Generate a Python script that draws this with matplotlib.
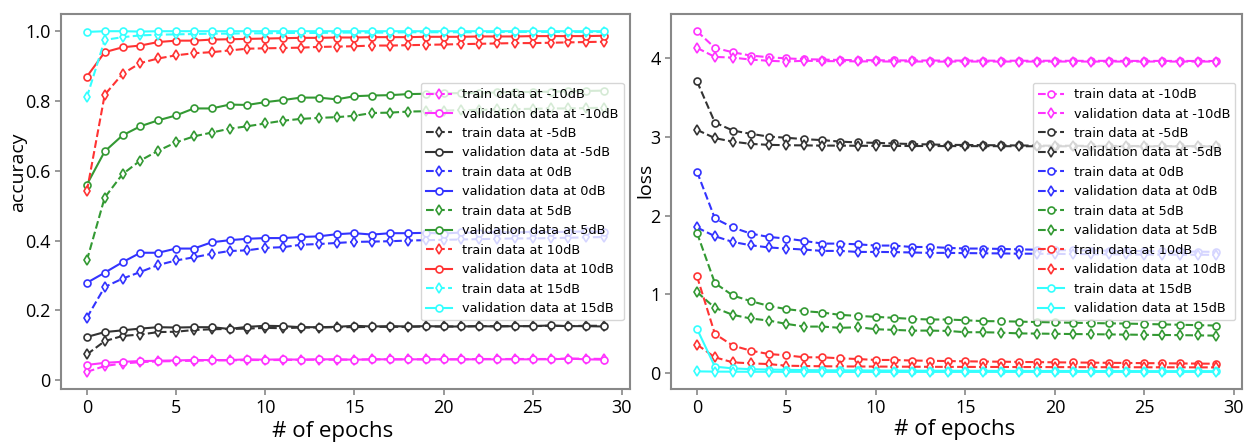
import numpy as np
import matplotlib.pyplot as plt

# Epoch index (x axis for both panels)
epochs = np.arange(30)
snr_levels = ['-10dB', '-5dB', '0dB', '5dB', '10dB', '15dB']

# Accuracy curves (left panel)
acc_train_m10 = [0.024, 0.041, 0.048, 0.052, 0.054, 0.055, 0.056, 0.057, 0.057, 0.058, 0.058, 0.058, 0.059, 0.059, 0.059,
                 0.059, 0.060, 0.060, 0.060, 0.060, 0.060, 0.060, 0.061, 0.061, 0.061, 0.061, 0.061, 0.062, 0.062, 0.061]
acc_val_m10 = [0.044, 0.050, 0.053, 0.055, 0.056, 0.057, 0.058, 0.058, 0.058, 0.060, 0.059, 0.060, 0.059, 0.060, 0.060,
               0.059, 0.060, 0.060, 0.060, 0.060, 0.060, 0.060, 0.060, 0.060, 0.060, 0.060, 0.060, 0.062, 0.060, 0.059]
acc_train_m5 = [0.074, 0.112, 0.127, 0.131, 0.138, 0.139, 0.144, 0.146, 0.147, 0.148, 0.150, 0.149, 0.151, 0.151, 0.152,
                0.152, 0.153, 0.153, 0.153, 0.154, 0.154, 0.154, 0.155, 0.155, 0.155, 0.155, 0.156, 0.155, 0.156, 0.156]
acc_val_m5 = [0.124, 0.138, 0.143, 0.148, 0.152, 0.151, 0.152, 0.152, 0.147, 0.153, 0.156, 0.155, 0.152, 0.152, 0.153,
              0.156, 0.154, 0.155, 0.154, 0.155, 0.154, 0.154, 0.155, 0.154, 0.155, 0.155, 0.157, 0.155, 0.155, 0.154]
acc_train_0 = [0.179, 0.267, 0.291, 0.310, 0.330, 0.343, 0.352, 0.362, 0.370, 0.372, 0.379, 0.381, 0.388, 0.390, 0.393,
               0.396, 0.397, 0.398, 0.400, 0.401, 0.402, 0.403, 0.404, 0.405, 0.406, 0.406, 0.407, 0.408, 0.409, 0.410]
acc_val_0 = [0.279, 0.308, 0.338, 0.365, 0.365, 0.377, 0.377, 0.395, 0.401, 0.405, 0.407, 0.407, 0.410, 0.412, 0.418,
             0.421, 0.417, 0.421, 0.421, 0.422, 0.420, 0.423, 0.422, 0.424, 0.423, 0.425, 0.424, 0.425, 0.426, 0.425]
acc_train_5 = [0.343, 0.523, 0.590, 0.629, 0.657, 0.681, 0.698, 0.709, 0.720, 0.727, 0.735, 0.743, 0.748, 0.751, 0.753,
               0.757, 0.765, 0.766, 0.769, 0.770, 0.772, 0.773, 0.774, 0.775, 0.776, 0.777, 0.778, 0.778, 0.779, 0.780]
acc_val_5 = [0.560, 0.655, 0.701, 0.727, 0.744, 0.758, 0.778, 0.778, 0.789, 0.788, 0.796, 0.802, 0.809, 0.809, 0.804,
             0.813, 0.815, 0.816, 0.819, 0.820, 0.821, 0.822, 0.822, 0.824, 0.825, 0.825, 0.826, 0.827, 0.828, 0.829]
acc_train_10 = [0.541, 0.817, 0.877, 0.908, 0.921, 0.930, 0.936, 0.939, 0.944, 0.949, 0.950, 0.951, 0.952, 0.954, 0.955,
                0.956, 0.958, 0.958, 0.959, 0.960, 0.961, 0.962, 0.963, 0.964, 0.965, 0.965, 0.966, 0.967, 0.968, 0.969]
acc_val_10 = [0.869, 0.939, 0.953, 0.958, 0.968, 0.972, 0.972, 0.975, 0.976, 0.977, 0.978, 0.979, 0.980, 0.980, 0.981,
              0.981, 0.982, 0.982, 0.982, 0.983, 0.983, 0.983, 0.984, 0.984, 0.984, 0.985, 0.985, 0.985, 0.985, 0.986]
acc_train_15 = [0.810, 0.974, 0.982, 0.987, 0.989, 0.990, 0.991, 0.992, 0.992, 0.993, 0.993, 0.994, 0.994, 0.994, 0.995,
                0.995, 0.995, 0.995, 0.996, 0.996, 0.996, 0.996, 0.996, 0.997, 0.997, 0.997, 0.997, 0.997, 0.997, 0.997]
acc_val_15 = [0.997, 0.999, 0.999, 0.998, 0.999, 0.999, 0.999, 0.999, 0.999, 0.999, 0.999, 0.999, 0.999, 0.999, 0.999,
              0.999, 0.999, 0.999, 0.999, 0.999, 0.999, 0.999, 0.999, 0.999, 0.999, 0.999, 0.999, 0.999, 0.999, 0.999]

# Loss curves (right panel)
loss_train_m10 = [4.346, 4.134, 4.078, 4.036, 4.015, 4.000, 3.990, 3.985, 3.980, 3.978, 3.976, 3.975, 3.974, 3.973, 3.972,
                  3.972, 3.971, 3.971, 3.970, 3.970, 3.970, 3.969, 3.969, 3.969, 3.968, 3.968, 3.968, 3.968, 3.967, 3.967]
loss_val_m10 = [4.134, 4.019, 4.010, 3.985, 3.970, 3.960, 3.970, 3.965, 3.965, 3.962, 3.962, 3.960, 3.962, 3.958, 3.960,
                3.960, 3.960, 3.960, 3.960, 3.960, 3.960, 3.960, 3.960, 3.960, 3.960, 3.960, 3.960, 3.960, 3.960, 3.960]
loss_train_m5 = [3.708, 3.184, 3.082, 3.040, 3.005, 2.990, 2.972, 2.960, 2.941, 2.930, 2.925, 2.917, 2.910, 2.905, 2.900,
                 2.898, 2.896, 2.894, 2.892, 2.890, 2.889, 2.888, 2.887, 2.886, 2.885, 2.885, 2.884, 2.884, 2.883, 2.883]
loss_val_m5 = [3.091, 2.985, 2.941, 2.912, 2.900, 2.895, 2.893, 2.890, 2.890, 2.888, 2.887, 2.886, 2.885, 2.885, 2.884,
               2.884, 2.883, 2.883, 2.882, 2.882, 2.882, 2.881, 2.881, 2.881, 2.880, 2.880, 2.880, 2.880, 2.880, 2.880]
loss_train_0 = [2.558, 1.963, 1.848, 1.771, 1.728, 1.707, 1.677, 1.643, 1.643, 1.634, 1.618, 1.618, 1.600, 1.600, 1.589,
                1.580, 1.580, 1.575, 1.570, 1.565, 1.560, 1.558, 1.555, 1.552, 1.550, 1.548, 1.545, 1.543, 1.540, 1.538]
loss_val_0 = [1.848, 1.737, 1.664, 1.622, 1.594, 1.580, 1.567, 1.550, 1.550, 1.537, 1.537, 1.535, 1.530, 1.525, 1.525,
              1.522, 1.520, 1.518, 1.515, 1.514, 1.512, 1.510, 1.508, 1.506, 1.505, 1.504, 1.503, 1.502, 1.501, 1.500]
loss_train_5 = [1.779, 1.141, 0.983, 0.911, 0.851, 0.809, 0.783, 0.766, 0.736, 0.723, 0.711, 0.698, 0.685, 0.677, 0.677,
                0.668, 0.656, 0.655, 0.650, 0.645, 0.640, 0.636, 0.632, 0.628, 0.625, 0.620, 0.615, 0.610, 0.605, 0.600]
loss_val_5 = [1.026, 0.826, 0.736, 0.690, 0.664, 0.621, 0.587, 0.587, 0.571, 0.579, 0.553, 0.545, 0.536, 0.536, 0.532,
              0.515, 0.515, 0.510, 0.500, 0.498, 0.495, 0.492, 0.490, 0.487, 0.485, 0.482, 0.480, 0.478, 0.475, 0.472]
loss_train_10 = [1.226, 0.494, 0.345, 0.281, 0.238, 0.221, 0.196, 0.196, 0.183, 0.174, 0.162, 0.162, 0.155, 0.152, 0.148,
                 0.145, 0.142, 0.140, 0.137, 0.135, 0.132, 0.130, 0.128, 0.126, 0.124, 0.122, 0.120, 0.118, 0.116, 0.114]
loss_val_10 = [0.358, 0.196, 0.132, 0.119, 0.110, 0.089, 0.085, 0.082, 0.080, 0.079, 0.078, 0.077, 0.076, 0.075, 0.074,
               0.074, 0.073, 0.073, 0.072, 0.072, 0.071, 0.071, 0.070, 0.070, 0.070, 0.069, 0.069, 0.069, 0.068, 0.068]
loss_train_15 = [0.558, 0.077, 0.055, 0.045, 0.040, 0.036, 0.033, 0.031, 0.030, 0.029, 0.028, 0.027, 0.026, 0.025, 0.025,
                 0.024, 0.024, 0.023, 0.023, 0.022, 0.022, 0.022, 0.021, 0.021, 0.021, 0.020, 0.020, 0.020, 0.020, 0.020]
loss_val_15 = [0.017, 0.014, 0.013, 0.012, 0.012, 0.011, 0.011, 0.011, 0.010, 0.010, 0.010, 0.010, 0.010, 0.010, 0.010,
               0.010, 0.010, 0.010, 0.010, 0.010, 0.010, 0.010, 0.010, 0.010, 0.010, 0.010, 0.010, 0.010, 0.010, 0.010]

acc_yticks = [0, 0.2, 0.4, 0.6, 0.8, 1.0]
acc_yticklabels = ['0', '0.2', '0.4', '0.6', '0.8', '1.0']


def main():
    colors = ['#ff33ff', '#333333', '#3333ff', '#339933', '#ff3333', '#33ffff']

    acc_train = [acc_train_m10, acc_train_m5, acc_train_0, acc_train_5, acc_train_10, acc_train_15]
    acc_val = [acc_val_m10, acc_val_m5, acc_val_0, acc_val_5, acc_val_10, acc_val_15]
    loss_train = [loss_train_m10, loss_train_m5, loss_train_0, loss_train_5, loss_train_10, loss_train_15]
    loss_val = [loss_val_m10, loss_val_m5, loss_val_0, loss_val_5, loss_val_10, loss_val_15]

    tick_font = 'Open Sans'
    fig = plt.figure(figsize=(12.45, 4.43), dpi=100)
    ax1 = fig.add_axes([0.049, 0.122, 0.457, 0.846])
    ax2 = fig.add_axes([0.539, 0.122, 0.4585, 0.846])

    mk = dict(markersize=5, markerfacecolor='white', linewidth=1.5, markeredgewidth=1.2)

    # Left: accuracy (train dashed/diamond, validation solid/circle)
    for i, snr in enumerate(snr_levels):
        ax1.plot(epochs, acc_train[i], linestyle='--', marker='d', color=colors[i],
                 markeredgecolor=colors[i], label=f'train data at {snr}', **mk)
        ax1.plot(epochs, acc_val[i], linestyle='-', marker='o', color=colors[i],
                 markeredgecolor=colors[i], label=f'validation data at {snr}', **mk)

    # Right: loss (all dashed except 15dB which is solid)
    for i, snr in enumerate(snr_levels):
        ls = '-' if snr == '15dB' else '--'
        ax2.plot(epochs, loss_train[i], linestyle=ls, marker='o', color=colors[i],
                 markeredgecolor=colors[i], label=f'train data at {snr}', **mk)
        ax2.plot(epochs, loss_val[i], linestyle=ls, marker='d', color=colors[i],
                 markeredgecolor=colors[i], label=f'validation data at {snr}', **mk)

    ax1.set_yticks(acc_yticks)
    ax1.set_yticklabels(acc_yticklabels)
    ax1.set_xticks([0, 5, 10, 15, 20, 25, 30])
    ax2.set_xticks([0, 5, 10, 15, 20, 25, 30])
    ax2.set_yticks([0, 1, 2, 3, 4])

    for ax in (ax1, ax2):
        for s in ax.spines.values():
            s.set_color('#888888')
            s.set_linewidth(1.5)
        ax.tick_params(colors='#888888', labelcolor='black', length=4, width=1.2)
        for lab in ax.get_xticklabels() + ax.get_yticklabels():
            lab.set_fontfamily(tick_font)
            lab.set_fontsize(13)
        ax.legend(loc='center right', fontsize=9.3, framealpha=0.8)

    ax1.set_ylabel('accuracy', fontfamily=tick_font, fontsize=14)
    ax1.yaxis.set_label_coords(-0.060, 0.577)
    ax2.set_ylabel('loss', fontfamily=tick_font, fontsize=14)
    ax2.yaxis.set_label_coords(-0.030, 0.557)
    ax1.set_xlabel('# of epochs', fontfamily=tick_font, fontsize=16)
    ax1.xaxis.set_label_coords(0.478, -0.085)
    ax2.set_xlabel('# of epochs', fontfamily=tick_font, fontsize=16)
    ax2.xaxis.set_label_coords(0.497, -0.08)

    fig.savefig('out.png', dpi=100)


if __name__ == "__main__":
    main()
